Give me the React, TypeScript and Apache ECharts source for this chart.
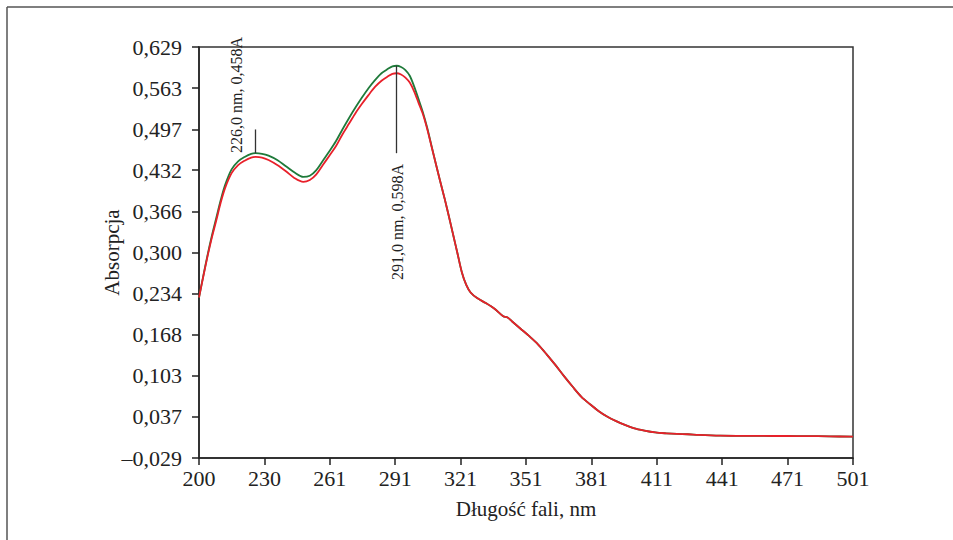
import React, { useEffect, useRef } from "react";
import * as echarts from "echarts";

const wavelengths = [200, 202, 204, 206, 208, 210, 212, 215, 218, 221, 224, 226, 229, 232, 236, 240, 244, 248, 251, 254, 257, 260, 263, 266, 269, 272, 275, 278, 281, 284, 287, 289, 291, 293, 295, 297, 299, 301, 303, 305, 307, 309, 311, 313, 315, 317, 319, 321, 323, 325, 328, 332, 336, 340, 342, 344, 348, 352, 356, 360, 364, 368, 372, 376, 380, 384, 388, 392, 396, 400, 405, 410, 415, 420, 425, 430, 440, 450, 460, 470, 480, 490, 501];

const redValues = [0.228, 0.262, 0.295, 0.325, 0.352, 0.38, 0.403, 0.427, 0.44, 0.447, 0.452, 0.453, 0.452, 0.448, 0.44, 0.43, 0.419, 0.413, 0.416, 0.425, 0.44, 0.455, 0.47, 0.489, 0.506, 0.523, 0.538, 0.552, 0.565, 0.575, 0.582, 0.586, 0.587, 0.585, 0.58, 0.572, 0.558, 0.54, 0.522, 0.498, 0.47, 0.442, 0.414, 0.387, 0.358, 0.328, 0.298, 0.268, 0.248, 0.236, 0.227, 0.219, 0.21, 0.198, 0.196, 0.19, 0.178, 0.166, 0.153, 0.137, 0.12, 0.102, 0.085, 0.069, 0.057, 0.046, 0.037, 0.03, 0.024, 0.019, 0.015, 0.012, 0.0105, 0.0095, 0.009, 0.008, 0.0068, 0.0065, 0.0063, 0.0062, 0.006, 0.0057, 0.0051];

const greenValues = [0.228, 0.263, 0.297, 0.328, 0.356, 0.384, 0.408, 0.433, 0.446, 0.453, 0.458, 0.459, 0.458, 0.455, 0.448, 0.438, 0.428, 0.421, 0.423, 0.432, 0.447, 0.462, 0.478, 0.497, 0.515, 0.532, 0.548, 0.563, 0.576, 0.587, 0.594, 0.598, 0.599, 0.597, 0.592, 0.583, 0.566, 0.546, 0.525, 0.5, 0.471, 0.442, 0.414, 0.387, 0.358, 0.328, 0.298, 0.268, 0.248, 0.236, 0.227, 0.219, 0.21, 0.198, 0.196, 0.19, 0.178, 0.166, 0.153, 0.137, 0.12, 0.102, 0.085, 0.069, 0.057, 0.046, 0.037, 0.03, 0.024, 0.019, 0.015, 0.012, 0.0105, 0.0095, 0.009, 0.008, 0.0068, 0.0065, 0.0063, 0.0062, 0.006, 0.0057, 0.0051];

const xTickValues = [200, 230.1, 260.2, 290.3, 320.4, 350.5, 380.6, 410.7, 440.8, 470.9, 501];
const xTickLabels = ["200", "230", "261", "291", "321", "351", "381", "411", "441", "471", "501"];

const yTickValues = [-0.029, 0.037, 0.103, 0.168, 0.234, 0.3, 0.366, 0.432, 0.497, 0.563, 0.629];
const yTickLabels = ["\u20130,029", "0,037", "0,103", "0,168", "0,234", "0,300", "0,366", "0,432", "0,497", "0,563", "0,629"];

const peakAnnotations = [
  { x: 226, yFrom: 0.459, yTo: 0.497, text: "226,0 nm, 0,458A" },
  { x: 291, yFrom: 0.599, yTo: 0.459, text: "291,0 nm, 0,598A" },
];

const FONT = "'Liberation Serif', 'Times New Roman', serif";

function nearestIndex(arr: number[], v: number) {
  let best = 0;
  for (let i = 1; i < arr.length; i++) {
    if (Math.abs(arr[i] - v) < Math.abs(arr[best] - v)) best = i;
  }
  return best;
}

export default function App() {
  const ref = useRef<HTMLDivElement>(null);
  useEffect(() => {
    if (!ref.current) return;
    const chart = echarts.init(ref.current, null, { renderer: "svg" });
    const green = wavelengths.map((w, i) => [w, greenValues[i]]);
    const red = wavelengths.map((w, i) => [w, redValues[i]]);
    chart.setOption({
      animation: false,
      backgroundColor: "#ffffff",
      grid: {
        left: 199,
        top: 47,
        width: 654,
        height: 411,
        show: true,
        borderColor: "#333",
        borderWidth: 1.5,
        backgroundColor: "transparent",
      },
      xAxis: {
        type: "value",
        min: 200,
        max: 501,
        name: "Długość fali, nm",
        nameLocation: "middle",
        nameGap: 40,
        nameMoveOverlap: false,
        nameTextStyle: { fontFamily: FONT, fontSize: 21, color: "#222" },
        axisLine: { show: true, onZero: false, lineStyle: { color: "#222", width: 1.5 } },
        axisTick: { show: true, length: 7, customValues: xTickValues, lineStyle: { color: "#222", width: 1.5 } },
        axisLabel: {
          customValues: xTickValues,
          fontFamily: FONT,
          fontSize: 22,
          color: "#222",
          margin: 9,
          formatter: (v: number) => xTickLabels[nearestIndex(xTickValues, v)],
        },
        splitLine: { show: false },
      },
      yAxis: {
        type: "value",
        min: -0.029,
        max: 0.629,
        name: "Absorpcja",
        nameLocation: "middle",
        nameRotate: 90,
        nameGap: 77,
        nameMoveOverlap: false,
        nameTextStyle: { fontFamily: FONT, fontSize: 21, color: "#222" },
        axisLine: { show: true, onZero: false, lineStyle: { color: "#222", width: 1.5 } },
        axisTick: { show: true, length: 7, customValues: yTickValues, lineStyle: { color: "#222", width: 1.5 } },
        axisLabel: {
          customValues: yTickValues,
          fontFamily: FONT,
          fontSize: 22,
          color: "#222",
          margin: 17,
          formatter: (v: number) => yTickLabels[nearestIndex(yTickValues, v)],
        },
        splitLine: { show: false },
      },
      series: [
        {
          type: "line",
          data: green,
          showSymbol: false,
          smooth: 0.3,
          lineStyle: { color: "#1f7a3a", width: 1.8 },
          z: 2,
          markLine: {
            silent: true,
            symbol: ["none", "none"],
            label: { show: false },
            lineStyle: { color: "#333", width: 1.3, type: "solid" },
            data: peakAnnotations.map((a) => [
              { coord: [a.x, a.yFrom] },
              { coord: [a.x, a.yTo] },
            ]),
          },
        },
        {
          type: "line",
          data: red,
          showSymbol: false,
          smooth: 0.3,
          lineStyle: { color: "#e8202a", width: 1.8 },
          z: 3,
        },
      ],
      graphic: [
        { type: "line", shape: { x1: 7, y1: 7, x2: 953, y2: 7 }, style: { stroke: "#555", lineWidth: 1.5 } },
        { type: "line", shape: { x1: 7, y1: 7, x2: 7, y2: 540 }, style: { stroke: "#555", lineWidth: 1.5 } },
        {
          type: "text",
          x: 236,
          y: 95,
          rotation: Math.PI / 2,
          style: { text: peakAnnotations[0].text, fontFamily: FONT, fontSize: 16, fill: "#222", align: "center", verticalAlign: "middle" },
        },
        {
          type: "text",
          x: 397,
          y: 222,
          rotation: Math.PI / 2,
          style: { text: peakAnnotations[1].text, fontFamily: FONT, fontSize: 16, fill: "#222", align: "center", verticalAlign: "middle" },
        },
      ],
    });
    return () => chart.dispose();
  }, []);
  return <div ref={ref} style={{ position: "absolute", left: 0, top: 0, width: 953, height: 540 }} />;
}
